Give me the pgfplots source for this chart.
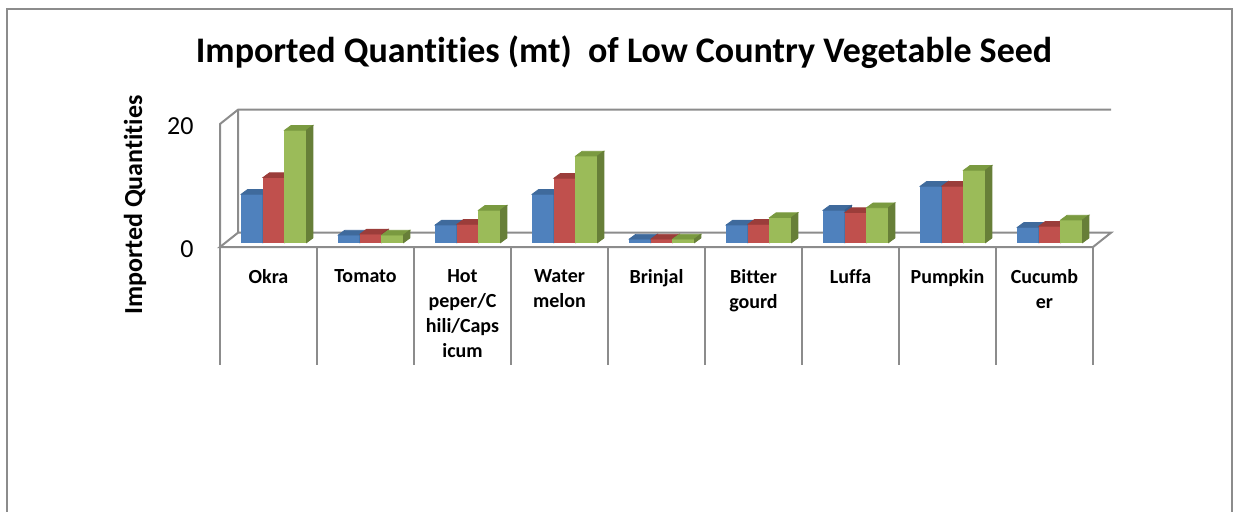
\documentclass[border=0pt]{standalone}
\usepackage{pgfplots}
\pgfplotsset{compat=1.18}
\usepackage{pgfplotstable}
\usepackage{fontspec}
\setmainfont{Carlito}[Ligatures=NoCommon]
\definecolor{bluef}{HTML}{4F81BD}
\definecolor{bluet}{HTML}{3F6A9C}
\definecolor{blues}{HTML}{385D8A}
\definecolor{redf}{HTML}{C0504D}
\definecolor{redt}{HTML}{9B3D3A}
\definecolor{reds}{HTML}{8C3836}
\definecolor{greenf}{HTML}{9BBB59}
\definecolor{greent}{HTML}{7A9A40}
\definecolor{greens}{HTML}{677F38}
\definecolor{framegray}{HTML}{8C8C8C}
\pgfdeclareplotmark{nothing}{}
\pgfplotstableread{
x   a    b    c
0.5 7.9  10.6 18.3
1.5 1.25 1.4  1.25
2.5 2.9  3.0  5.3
3.5 7.9  10.5 14.1
4.5 0.6  0.6  0.6
5.5 2.9  3.0  4.1
6.5 5.3  4.9  5.7
7.5 9.2  9.2  11.8
8.5 2.5  2.7  3.7
}\seeddata
\pgfplotsset{
  bar3d/.style={%
    scatter, only marks, mark=nothing,
    visualization depends on={y \as \rawy},
    visualization depends on={value #1 \as \seriesidx},
    scatter/@pre marker code/.code={%
      \pgfkeys{/pgf/fpu=false}%
      \ifcase\seriesidx\relax
        \def\xs{-8.15}\def\cf{bluef}\def\ct{bluet}\def\cs{blues}%
      \or
        \def\xs{2.7}\def\cf{redf}\def\ct{redt}\def\cs{reds}%
      \else
        \def\xs{13.55}\def\cf{greenf}\def\ct{greent}\def\cs{greens}%
      \fi
      \pgfmathsetmacro\bL{\xs-5.425}%
      \pgfmathsetmacro\bR{\xs+5.425}%
      \pgfmathsetmacro\bLL{\bL+3.2}%
      \pgfmathsetmacro\bRR{\bR+3.2}%
      \pgfmathsetmacro\bB{2.15-\rawy*3.075}%
      \pgfmathsetmacro\bBB{\bB+2.35}%
      \fill[\cf] (\bL pt,\bB pt) rectangle (\bR pt,2.15pt);
      \fill[\ct] (\bL pt,2.15pt) -- (\bR pt,2.15pt) -- (\bRR pt,4.5pt) -- (\bLL pt,4.5pt) -- cycle;
      \fill[\cs] (\bR pt,\bB pt) -- (\bR pt,2.15pt) -- (\bRR pt,4.5pt) -- (\bRR pt,\bBB pt) -- cycle;
    },
    scatter/@post marker code/.code={},
  },
}
\begin{document}
\begin{tikzpicture}
\useasboundingbox (0,0) rectangle (623.5pt,255.5pt);
\clip (0,0) rectangle (623.5pt,255.5pt);
\draw[framegray, line width=1pt] (3.5pt,-2pt) -- (3.5pt,251pt) -- (616pt,251pt) -- (616pt,-2pt);
\begin{axis}[
  at={(110pt,132pt)}, anchor=south west,
  x=48.5pt, y=3.075pt,
  xmin=0, xmax=9, ymin=0, ymax=20,
  disabledatascaling,
  clip=false,
  axis line style={draw=none},
  tick style={draw=none},
  major tick length=0pt,
  ytick={0,20},
  yticklabel style={font=\fontsize{13}{15}\selectfont, inner sep=0pt, anchor=east, xshift=-13pt, yshift=-1pt},
  /pgf/number format/assume math mode=true,
  xtick={0.5,1.5,...,8.5},
  xticklabels={Okra,Tomato,{Hot\\peper/C\\hili/Caps\\icum},{Water\\melon},Brinjal,{Bitter\\gourd},Luffa,Pumpkin,{Cucumb\\er}},
  xticklabel style={align=center, font=\bfseries\fontsize{10}{12.5}\selectfont, anchor=north, inner sep=0pt, yshift=-10.85pt},
  title={Imported Quantities (mt)\ \ of Low Country Vegetable Seed},
  title style={at={(axis description cs:0.4628,1.4065)}, anchor=base, inner sep=0pt, font=\bfseries\fontsize{18}{21}\selectfont},
  ylabel={Imported Quantities},
  every axis y label/.style={at={(axis description cs:-0.0974,0.3415)}, rotate=90, anchor=center, font=\bfseries\fontsize{13}{15}\selectfont},
]
% walls and floor
\draw[framegray, line width=1pt]
  (axis cs:0,0) -- (axis cs:0,20) -- ([shift={(9pt,7.15pt)}]axis cs:0,20) -- ([shift={(9pt,7.15pt)}]axis cs:9,20);
\draw[framegray, line width=1pt]
  ([shift={(9pt,7.15pt)}]axis cs:0,20) -- ([shift={(9pt,7.15pt)}]axis cs:0,0) -- ([shift={(9pt,7.15pt)}]axis cs:9,0) -- (axis cs:9,0) -- (axis cs:0,0) -- ([shift={(9pt,7.15pt)}]axis cs:0,0);
% table grid
\pgfplotsinvokeforeach{0,...,9}{
  \draw[framegray, line width=1pt] (axis cs:#1,0) -- ++(0pt,-59pt);
}
\addplot[bar3d=0] table[x=x,y=a] {\seeddata};
\addplot[bar3d=1] table[x=x,y=b] {\seeddata};
\addplot[bar3d=2] table[x=x,y=c] {\seeddata};
\end{axis}
\end{tikzpicture}
\end{document}
